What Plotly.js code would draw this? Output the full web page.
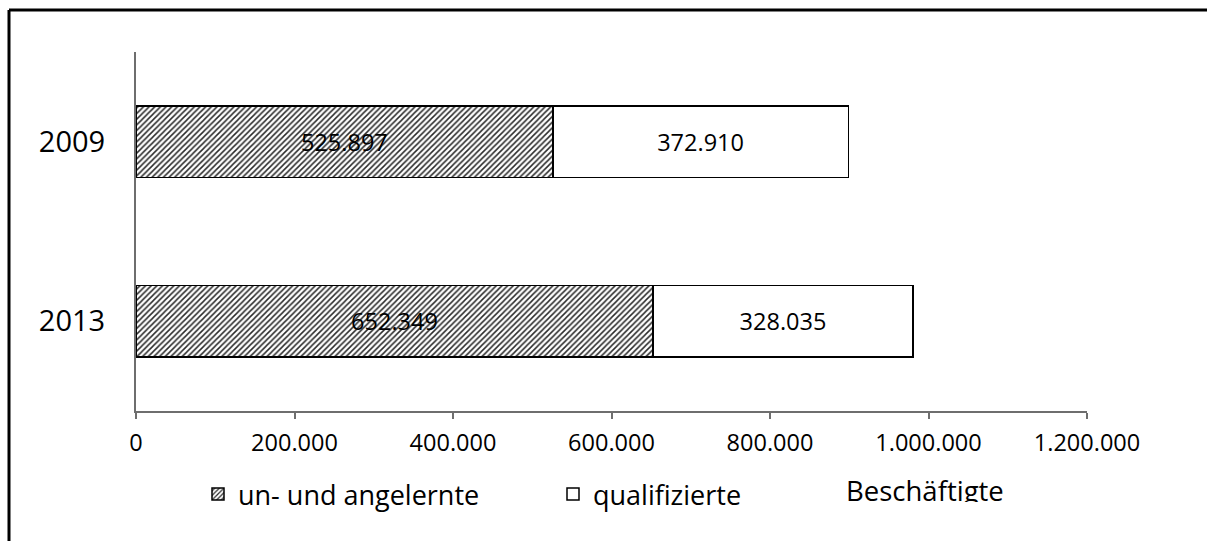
<!DOCTYPE html>
<html>
<head>
<meta charset="utf-8">
<script src="https://cdn.plot.ly/plotly-3.0.1.min.js"></script>
<style>html,body{margin:0;padding:0;background:#fff;}#chart{width:1207px;height:541px;}</style>
</head>
<body>
<div id="chart"></div>
<script>
const years = ['2009', '2013'];
const unskilled = [525897, 652349];
const qualified = [372910, 328035];
const seriesNames = ['un- und angelernte', 'qualifizierte'];
const xTicks = [0, 200000, 400000, 600000, 800000, 1000000, 1200000];
const axisTitle = 'Beschäftigte';

const FONT = 'Open Sans, Noto Sans, sans-serif';

const traces = [
  {
    type: 'bar', orientation: 'h', name: seriesNames[0],
    y: years, x: unskilled,
    marker: {
      color: '#ffffff',
      pattern: {shape: '/', fgcolor: '#2a2a2a', bgcolor: '#ffffff', size: 4, solidity: 0.38},
      line: {color: '#000000', width: 1.5}
    },
    text: unskilled, texttemplate: '%{x:,d}', textposition: 'inside', insidetextanchor: 'middle',
    textfont: {family: FONT, size: 23.5, color: '#000'},
    hoverinfo: 'skip'
  },
  {
    type: 'bar', orientation: 'h', name: seriesNames[1],
    y: years, x: qualified,
    marker: {color: '#ffffff', line: {color: '#000000', width: 1.5}},
    text: qualified, texttemplate: '%{x:,d}', textposition: 'inside', insidetextanchor: 'middle',
    textfont: {family: FONT, size: 23.5, color: '#000'},
    hoverinfo: 'skip'
  }
];

const layout = {
  width: 1207, height: 541,
  margin: {l: 136, r: 120, t: 52, b: 130},
  paper_bgcolor: '#fff', plot_bgcolor: '#fff',
  separators: ',.',
  barmode: 'stack', bargap: 0.6,
  font: {family: FONT, color: '#000'},
  showlegend: true,
  legend: {
    orientation: 'h', xref: 'container', yref: 'container',
    x: 198 / 1207, xanchor: 'left', y: 1 - 470 / 541, yanchor: 'top',
    entrywidth: 310, entrywidthmode: 'pixels', itemwidth: 30,
    font: {family: FONT, size: 27, color: '#000'},
    traceorder: 'normal'
  },
  xaxis: {
    range: [0, 1200000], tickvals: xTicks, tickformat: ',d',
    showgrid: false, zeroline: false,
    showline: true, linecolor: '#6e6e6e', linewidth: 2,
    ticks: 'outside', ticklen: 6, tickwidth: 2, tickcolor: '#6e6e6e',
    ticklabelstandoff: 4,
    tickfont: {family: FONT, size: 23.5, color: '#000'},
    fixedrange: true
  },
  yaxis: {
    type: 'category', categoryorder: 'array', categoryarray: years,
    autorange: 'reversed',
    showgrid: false, zeroline: false,
    showline: true, linecolor: '#6e6e6e', linewidth: 2,
    ticks: '', ticklabelstandoff: 23,
    tickfont: {family: FONT, size: 29, color: '#000'},
    fixedrange: true
  },
  annotations: [
    {text: axisTitle, xref: 'paper', yref: 'paper', x: (845 - 136) / 951, xanchor: 'left',
     y: -(471 - 411) / 359, yanchor: 'top', showarrow: false,
     height: 30, valign: 'top', borderpad: 0,
     font: {family: FONT, size: 27.5, color: '#000'}}
  ],
  shapes: [
    {type: 'line', xref: 'paper', yref: 'paper', x0: (9 - 136) / 951, x1: (9 - 136) / 951,
     y0: 1 + (52 - 10) / 359, y1: -0.6, line: {color: '#000', width: 3}},
    {type: 'line', xref: 'paper', yref: 'paper', x0: (9 - 136) / 951, x1: 1.3,
     y0: 1 + (52 - 10) / 359, y1: 1 + (52 - 10) / 359, line: {color: '#000', width: 3}}
  ]
};

Plotly.newPlot('chart', traces, layout, {staticPlot: true, displayModeBar: false});
</script>
</body>
</html>
